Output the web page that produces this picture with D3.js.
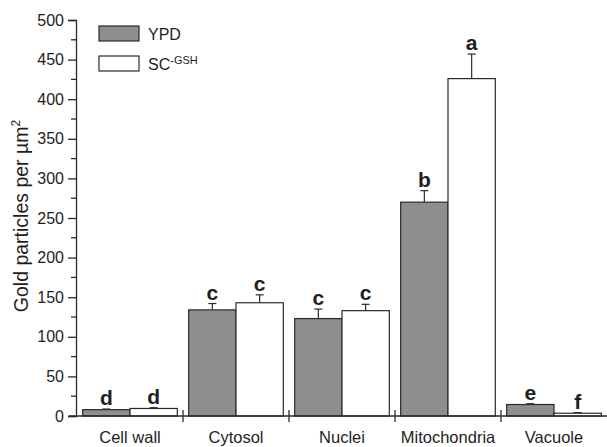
<!DOCTYPE html>
<html><head><meta charset="utf-8">
<script src="https://cdn.jsdelivr.net/npm/d3@7"></script>
<style>body{margin:0;background:#fff}svg{display:block}text{font-family:"Liberation Sans",Arial,sans-serif;fill:#1e1e1e}</style>
</head><body>
<script>
const categories = ["Cell wall","Cytosol","Nuclei","Mitochondria","Vacuole"];
const seriesNames = ["YPD","SC-GSH"];
const ypd = [8, 134, 123, 270, 14.5];
const ypdErr = [0.8, 8, 12, 14.5, 1];
const sc = [9.5, 143, 133, 426, 3.5];
const scErr = [1, 10, 8, 31, 0.8];
const ypdLetters = ["d","c","c","b","e"];
const scLetters = ["d","c","c","a","f"];
const yTicks = [0,50,100,150,200,250,300,350,400,450,500];

const W=607,H=447;
const svg=d3.select("body").append("svg").attr("width",W).attr("height",H);
const x=d3.scaleBand().domain(categories).range([77,607]).paddingInner(0).paddingOuter(0);
const xs=d3.scaleBand().domain(seriesNames).range([0,x.bandwidth()]).paddingOuter(0.12).paddingInner(0);
const y=d3.scaleLinear().domain([0,500]).range([416,20]);
const colors={"YPD":"#8e8e91","SC-GSH":"#ffffff"};
const stroke="#2a2a2a";

// y axis
const yAx=svg.append("g").attr("transform","translate(76,0)")
  .call(d3.axisLeft(y).tickValues(yTicks).tickSize(8).tickPadding(4));
yAx.select(".domain").attr("stroke",stroke).attr("stroke-width",1.3);
yAx.selectAll(".tick line").attr("stroke",stroke).attr("stroke-width",1.3);
yAx.selectAll(".tick text").attr("font-size",16).attr("fill","#1e1e1e").style("font-family","Liberation Sans, Arial");
// minor
yAx.selectAll(".minor").data(d3.range(25,500,50)).enter().append("line")
  .attr("x1",-5).attr("x2",0).attr("y1",d=>y(d)).attr("y2",d=>y(d)).attr("stroke",stroke).attr("stroke-width",1.3);

// bars
const data=categories.map((c,i)=>[
  {c,s:"YPD",v:ypd[i],e:ypdErr[i],l:ypdLetters[i]},
  {c,s:"SC-GSH",v:sc[i],e:scErr[i],l:scLetters[i]}]).flat();
const g=svg.append("g");
const bw=xs.bandwidth();
// error bars
g.selectAll(".err").data(data).enter().append("line")
  .attr("x1",d=>x(d.c)+xs(d.s)+bw/2).attr("x2",d=>x(d.c)+xs(d.s)+bw/2)
  .attr("y1",d=>y(d.v)).attr("y2",d=>y(d.v+d.e)).attr("stroke",stroke).attr("stroke-width",1.2);
g.selectAll(".cap").data(data).enter().append("line")
  .attr("x1",d=>x(d.c)+xs(d.s)+bw/2-4).attr("x2",d=>x(d.c)+xs(d.s)+bw/2+4)
  .attr("y1",d=>y(d.v+d.e)).attr("y2",d=>y(d.v+d.e)).attr("stroke",stroke).attr("stroke-width",1.2);
g.selectAll("rect").data(data).enter().append("rect")
  .attr("x",d=>x(d.c)+xs(d.s)).attr("width",bw)
  .attr("y",d=>y(d.v)).attr("height",d=>y(0)-y(d.v))
  .attr("fill",d=>colors[d.s]).attr("stroke",stroke).attr("stroke-width",1.2);
g.selectAll(".lbl").data(data).enter().append("text")
  .attr("x",d=>x(d.c)+xs(d.s)+bw/2).attr("y",d=>y(d.v+d.e)-4)
  .attr("text-anchor","middle").attr("font-size",21).attr("font-weight","bold").text(d=>d.l);

// x axis
const xAx=svg.append("g").attr("transform","translate(0,416)");
xAx.append("line").attr("x1",69).attr("x2",607).attr("y1",0).attr("y2",0).attr("stroke",stroke).attr("stroke-width",1.3);
xAx.selectAll(".sep").data(categories.slice(1)).enter().append("line")
  .attr("x1",d=>x(d)).attr("x2",d=>x(d)).attr("y1",-6).attr("y2",6).attr("stroke",stroke).attr("stroke-width",1.3);
xAx.selectAll(".cl").data(categories).enter().append("text")
  .attr("x",d=>x(d)+x.bandwidth()/2).attr("y",27).attr("text-anchor","middle").attr("font-size",16.5).text(d=>d);

// y label
svg.append("text").attr("transform","translate(28,216) rotate(-90)").attr("text-anchor","middle").attr("font-size",19.5)
  .html('Gold particles per µm<tspan dy="-8" font-size="12">2</tspan>');

// legend
const leg=svg.append("g");
seriesNames.forEach((s,i)=>{
  leg.append("rect").attr("x",99).attr("y",26+i*30).attr("width",40).attr("height",15)
    .attr("fill",colors[s]).attr("stroke",stroke).attr("stroke-width",1.2);
});
leg.append("text").attr("x",148).attr("y",40).attr("font-size",16).text("YPD");
leg.append("text").attr("x",148).attr("y",70).attr("font-size",16)
  .html('SC<tspan dy="-6" font-size="11">-GSH</tspan>');
</script>
</body></html>
